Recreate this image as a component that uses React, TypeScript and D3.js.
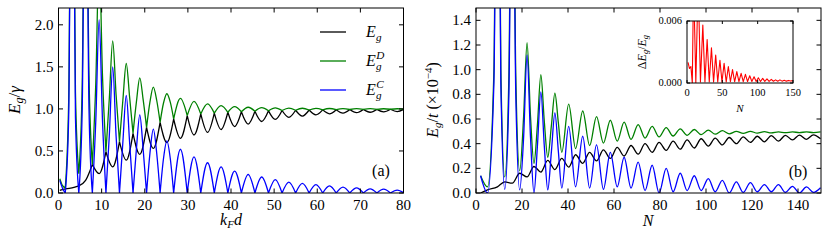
import * as d3 from "d3";

// ---------- panel (a): E_g / gamma vs k_F d ----------
const kdA = [
  0.3, 0.9, 1.57, 2.36, 3.14, 3.93, 4.71, 5.5, 6.28, 7.07, 7.85, 8.64, 9.42, 10.21, 11.0,
  11.78, 12.57, 13.35, 14.14, 14.92, 15.71, 16.49, 17.28, 18.06, 18.85, 19.63, 20.42, 21.2,
  21.99, 22.78, 23.56, 24.35, 25.13, 25.92, 26.7, 28.27, 29.85, 31.42, 32.99, 34.56, 36.13,
  37.7, 39.27, 40.84, 42.41, 43.98, 45.55, 47.12, 48.69, 50.27, 51.84, 53.41, 54.98, 56.55,
  58.12, 59.69, 61.26, 62.83, 64.4, 65.97, 67.54, 69.12, 70.69, 72.26, 73.83, 75.4, 76.97,
  78.54, 80.11,
];
const egCA = [
  0.15, 0.06, 0, 0.9, 6, 0.9, 0, 1.0, 5, 1.0, 0, 0.85, 2.06, 0.85, 0,
  0.68, 1.5, 0.68, 0, 0.6, 1.16, 0.6, 0, 0.52, 0.93, 0.52, 0, 0.47,
  0.76, 0.47, 0, 0.41, 0.62, 0.41, 0, 0.52, 0, 0.43, 0, 0.36, 0,
  0.31, 0, 0.26, 0, 0.22, 0, 0.19, 0, 0.16, 0, 0.13, 0, 0.115,
  0, 0.1, 0, 0.085, 0, 0.07, 0, 0.062, 0, 0.05, 0, 0.045, 0,
  0.035, 0,
];
const egDA = [
  0.17, 0.09, 0.06, 1.1, 6, 1.2, 0.23, 1.3, 5, 1.4, 0.34, 1.3, 2.8, 1.38, 0.49,
  1.12, 1.81, 1.17, 0.61, 1.1, 1.54, 1.14, 0.71, 1.08, 1.37, 1.11, 0.78, 1.08,
  1.26, 1.1, 0.84, 1.07, 1.18, 1.08, 0.88, 1.125, 0.92, 1.09, 0.94, 1.06, 0.95,
  1.04, 0.96, 1.028, 0.966, 1.02, 0.972, 1.015, 0.977, 1.012, 0.981, 1.01, 0.984, 1.008,
  0.987, 1.006, 0.989, 1.005, 0.991, 1.004, 0.993, 1.003, 0.994, 1.003, 0.995, 1.002, 0.996,
  1.002, 0.997,
];
const egA = [
  0.03, 0.04, 0.05, null, 0.06, null, 0.085, null, 0.15, null, 0.34, null, 0.23, null, 0.49,
  null, 0.31, null, 0.61, null, 0.39, null, 0.71, null, 0.46, null, 0.78, null,
  0.53, null, 0.84, null, 0.6, null, 0.88, 0.65, 0.92, 0.69, 0.94, 0.72, 0.95,
  0.755, 0.96, 0.79, 0.966, 0.82, 0.972, 0.85, 0.977, 0.875, 0.981, 0.9, 0.984, 0.915,
  0.987, 0.93, 0.989, 0.942, 0.991, 0.95, 0.993, 0.956, 0.994, 0.96, 0.995, 0.965, 0.996,
  0.968, 0.997,
];
const cuspA = [
  1.57, 4.71, 7.85, 11.0, 14.14, 17.28, 20.42, 23.56, 26.7, 29.85, 32.99, 36.13, 39.27,
  42.41, 45.55, 48.69, 51.84, 54.98, 58.12, 61.26, 64.4, 67.54, 70.69, 73.83, 76.97, 80.11,
];

// ---------- panel (b): E_g / t vs N ----------
const nB = [
  2, 5, 7.8, 9.3, 10.8, 12.5, 14.3, 15.8, 17.3, 19, 20.7, 22.2, 23.7, 25.2, 26.7, 28.2, 29.7,
  31.2, 32.8, 34.3, 35.8, 37.3, 40.3, 43.3, 46.4, 49.4, 52.4, 55.4, 58.4, 61.4, 64.4, 67.4,
  70.5, 73.5, 76.6, 79.6, 82.7, 85.7, 88.8, 91.8, 94.9, 97.9, 101, 104, 107.1, 110.1, 113.2,
  116.2, 119.3, 122.3, 125.4, 128.4, 131.5, 134.5, 137.6, 140.6, 143.7, 146.7, 149.8,
];
const egCB = [
  0.14, 0.0, 0.9, 4.0, 0.9, 0.03, 0.8, 3.5, 0.8, 0.025, 0.45, 1.12, 0.45, 0.0, 0.38, 0.82, 0.38,
  0.025, 0.34, 0.65, 0.34, 0.04, 0.54, 0.05, 0.46, 0.04, 0.39, 0.03, 0.33, 0.05, 0.29, 0.04,
  0.25, 0.02, 0.225, 0.0, 0.2, 0.01, 0.16, 0.02, 0.14, 0.02, 0.117, 0.01, 0.103, 0.0, 0.09,
  0.005, 0.084, 0.01, 0.068, 0.01, 0.068, 0.005, 0.054, 0.0, 0.049, 0.005, 0.043,
];
const egDB = [
  0.14, 0.05, 1.0, 4.5, 1.0, 0.13, 0.95, 3.8, 0.95, 0.18, 0.62, 1.22, 0.62, 0.24, 0.55, 0.96, 0.58,
  0.29, 0.55, 0.81, 0.57, 0.33, 0.72, 0.36, 0.665, 0.385, 0.62, 0.405, 0.59, 0.42, 0.575, 0.435,
  0.555, 0.445, 0.54, 0.455, 0.53, 0.462, 0.52, 0.468, 0.515, 0.473, 0.51, 0.477, 0.505, 0.48, 0.5,
  0.483, 0.5, 0.485, 0.497, 0.487, 0.495, 0.489, 0.495, 0.49, 0.495, 0.49, 0.495,
];
const egB = [
  0.0, 0.025, null, 0.05, null, 0.09, null, 0.08, null, 0.16, null, 0.13, null, 0.215, null, 0.17, null,
  0.265, null, 0.19, null, 0.28, 0.21, 0.31, 0.24, 0.33, 0.26, 0.35, 0.28, 0.37, 0.3, 0.385,
  0.315, 0.4, 0.33, 0.41, 0.345, 0.42, 0.355, 0.43, 0.365, 0.44, 0.38, 0.445, 0.39, 0.45, 0.4,
  0.455, 0.41, 0.46, 0.415, 0.465, 0.42, 0.468, 0.43, 0.47, 0.435, 0.472, 0.44,
];

// ---------- inset: Delta E_g / E_g vs N ----------
const nIn = [
  1.5, 3.5, 5.5, 7.5, 9.3, 12.5, 15.8, 19, 22.4, 25.4, 28.5, 31.5, 34.6, 37.6, 40.6, 43.5, 46.6,
  49.5, 52.5, 55.5, 58.5, 61.4, 64.4, 67.4, 70.5, 73.5, 76.6, 79.6, 82.7, 85.7, 88.8, 91.8, 94.9,
  97.9, 101, 104, 107.1, 110.1, 113.2, 116.2, 119.3, 122.3, 125.4, 128.4, 131.5, 134.5, 137.6,
  140.6, 143.7, 146.7, 149.8,
];
const dEIn = [
  0.002, 0.0014, 0.0016, 0.0, 0.01, 0.0, 0.01, 0.0001, 0.0056, 0.0001, 0.0042, 0.0001, 0.0034,
  0.0001, 0.0027, 0.0001, 0.0022, 0.0001, 0.0019, 0.0001, 0.0016, 0.00012, 0.0013, 0.00012,
  0.0011, 0.00013, 0.00094, 0.00013, 0.00084, 0.00014, 0.0007, 0.00014, 0.0006, 0.00015, 0.0005,
  0.00015, 0.00045, 0.00016, 0.0004, 0.00016, 0.00035, 0.00017, 0.0003, 0.00017, 0.0003, 0.00018,
  0.00026, 0.00018, 0.00025, 0.00019, 0.00023,
];

const ticksAx = [0, 10, 20, 30, 40, 50, 60, 70, 80];
const ticksAy = [0, 0.5, 1.0, 1.5, 2.0];
const ticksBx = [0, 20, 40, 60, 80, 100, 120, 140];
const ticksBy = [0, 0.2, 0.4, 0.6, 0.8, 1.0, 1.2, 1.4];
const ticksIx = [0, 50, 100, 150];
const ticksIy = [0, 0.006];

const W = 830;
const H = 243;
const FONT = "'Liberation Serif', 'DejaVu Serif', serif";
const GREEN = "#008000";
const BLUE = "#0000ff";

const xA = d3.scaleLinear().domain([0, 80]).range([58.5, 403.5]);
const yA = d3.scaleLinear().domain([0, 2.2]).range([193, 8]);
const xB = d3.scaleLinear().domain([0, 150]).range([476, 821]);
const yB = d3.scaleLinear().domain([0, 1.5]).range([193, 8]);
const xI = d3.scaleLinear().domain([0, 150]).range([687, 793]);
const yI = d3.scaleLinear().domain([0, 0.006]).range([83, 21]);

type Pt = [number, number];

// split a series at the cusp positions so each arch is its own smooth piece
function pieces(xs: number[], ys: (number | null)[], cusps: number[]): Pt[][] {
  const pts = xs.map((x, i) => [x, ys[i]]).filter((p) => p[1] != null) as Pt[];
  const out: Pt[][] = [];
  let cur: Pt[] = [];
  pts.forEach((p) => {
    cur.push(p);
    if (cusps.includes(p[0]) && cur.length > 1) {
      out.push(cur);
      cur = [p];
    }
  });
  if (cur.length > 1) out.push(cur);
  return out;
}

function pathOf(xs: number[], ys: (number | null)[], cusps: number[], sx: any, sy: any, curve: any) {
  const line = d3
    .line<Pt>()
    .x((d) => sx(d[0]))
    .y((d) => sy(d[1]))
    .curve(curve);
  return pieces(xs, ys, cusps)
    .map((s) => line(s))
    .join("");
}

function Frame({ sx, sy, xt, yt, fmt, size, tick, lblGap }: any) {
  const [x0, x1] = sx.range();
  const [y0, y1] = sy.range();
  return (
    <g>
      {xt.map((t: number) => (
        <g key={"x" + t}>
          <line x1={sx(t)} x2={sx(t)} y1={y0} y2={y0 - tick} stroke="#000" />
          <line x1={sx(t)} x2={sx(t)} y1={y1} y2={y1 + tick} stroke="#000" />
          <text x={sx(t)} y={y0 + lblGap} textAnchor="middle" fontSize={size}>
            {t}
          </text>
        </g>
      ))}
      {yt.map((t: number) => (
        <g key={"y" + t}>
          <line x1={x0} x2={x0 + tick} y1={sy(t)} y2={sy(t)} stroke="#000" />
          <line x1={x1} x2={x1 - tick} y1={sy(t)} y2={sy(t)} stroke="#000" />
          <text x={x0 - 5} y={sy(t)} dy="0.33em" textAnchor="end" fontSize={size}>
            {fmt(t)}
          </text>
        </g>
      ))}
      <rect x={x0} y={y1} width={x1 - x0} height={y0 - y1} fill="none" stroke="#000" strokeWidth={1} />
    </g>
  );
}

function Eg({ x, y, sup, size }: any) {
  return (
    <g fontStyle="italic">
      <text x={x} y={y} fontSize={size}>E</text>
      <text x={x + size * 0.62} y={y + size * 0.25} fontSize={size * 0.7}>g</text>
      {sup && (
        <text x={x + size * 0.64} y={y - size * 0.42} fontSize={size * 0.7}>
          {sup}
        </text>
      )}
    </g>
  );
}

export default function App() {
  const curve = d3.curveMonotoneX;
  const legend = [
    { color: "#000", sup: null },
    { color: GREEN, sup: "D" },
    { color: BLUE, sup: "C" },
  ];
  return (
    <svg
      width={W}
      height={H}
      style={{ position: "absolute", left: 0, top: 0, background: "#fff" }}
      fontFamily={FONT}
    >
      <defs>
        <clipPath id="clipA">
          <rect x={xA(0)} y={yA(2.2)} width={xA(80) - xA(0)} height={yA(0) - yA(2.2)} />
        </clipPath>
        <clipPath id="clipB">
          <rect x={xB(0)} y={yB(1.5)} width={xB(150) - xB(0)} height={yB(0) - yB(1.5)} />
        </clipPath>
        <clipPath id="clipI">
          <rect x={xI(0)} y={yI(0.006)} width={xI(150) - xI(0)} height={yI(0) - yI(0.006)} />
        </clipPath>
      </defs>

      {/* panel (a) */}
      <g clipPath="url(#clipA)" fill="none" strokeWidth={1.3} strokeLinejoin="round">
        <path d={pathOf(kdA, egA, cuspA, xA, yA, curve)} stroke="#000" />
        <path d={pathOf(kdA, egDA, cuspA, xA, yA, curve)} stroke={GREEN} />
        <path d={pathOf(kdA, egCA, cuspA, xA, yA, curve)} stroke={BLUE} />
      </g>
      <Frame sx={xA} sy={yA} xt={ticksAx} yt={ticksAy} fmt={d3.format(".1f")} size={15} tick={4.5} lblGap={17} />
      {legend.map((l, i) => (
        <g key={i}>
          <line x1={320} x2={346} y1={32 + i * 29} y2={32 + i * 29} stroke={l.color} strokeWidth={1.3} />
          <Eg x={366} y={37 + i * 29} sup={l.sup} size={16} />
        </g>
      ))}
      <text x={381} y={176} textAnchor="middle" fontSize={16}>(a)</text>
      <text x={231} y={225} textAnchor="middle" fontSize={16} fontStyle="italic">
        k<tspan fontSize={11} dy={3}>F</tspan>
        <tspan dy={-3}>d</tspan>
      </text>
      <text transform="translate(20,100) rotate(-90)" textAnchor="middle" fontSize={17}>
        <tspan fontStyle="italic">E</tspan>
        <tspan fontStyle="italic" fontSize={12} dy={3}>g</tspan>
        <tspan dy={-3}>/</tspan>
        <tspan fontStyle="italic">γ</tspan>
      </text>

      {/* panel (b) */}
      <g clipPath="url(#clipB)" fill="none" strokeWidth={1.3} strokeLinejoin="round">
        <path d={pathOf(nB, egB, [], xB, yB, curve)} stroke="#000" />
        <path d={pathOf(nB, egDB, [], xB, yB, curve)} stroke={GREEN} />
        <path d={pathOf(nB, egCB, [], xB, yB, curve)} stroke={BLUE} />
      </g>
      <Frame sx={xB} sy={yB} xt={ticksBx} yt={ticksBy} fmt={d3.format(".1f")} size={15} tick={4.5} lblGap={17} />
      <text x={798} y={177} textAnchor="middle" fontSize={16}>(b)</text>
      <text x={648} y={226} textAnchor="middle" fontSize={16} fontStyle="italic">N</text>
      <text transform="translate(438,100) rotate(-90)" textAnchor="middle" fontSize={16}>
        <tspan fontStyle="italic">E</tspan>
        <tspan fontStyle="italic" fontSize={11} dy={3}>g</tspan>
        <tspan dy={-3}>/</tspan>
        <tspan fontStyle="italic">t</tspan>
        <tspan> (×10</tspan>
        <tspan fontSize={11} dy={-6}>−4</tspan>
        <tspan dy={6}>)</tspan>
      </text>

      {/* inset */}
      <rect x={xI(0)} y={yI(0.006)} width={xI(150) - xI(0)} height={yI(0) - yI(0.006)} fill="#fff" />
      <g clipPath="url(#clipI)" fill="none" strokeWidth={1.1} strokeLinejoin="round">
        <path d={pathOf(nIn, dEIn, [], xI, yI, d3.curveLinear)} stroke="#ff0000" />
      </g>
      <Frame sx={xI} sy={yI} xt={ticksIx} yt={ticksIy} fmt={d3.format(".3f")} size={10.5} tick={3} lblGap={13} />
      <text x={740} y={112} textAnchor="middle" fontSize={11} fontStyle="italic">N</text>
      <text transform="translate(646,52) rotate(-90)" textAnchor="middle" fontSize={12}>
        <tspan>Δ</tspan>
        <tspan fontStyle="italic">E</tspan>
        <tspan fontStyle="italic" fontSize={8.5} dy={2}>g</tspan>
        <tspan dy={-2}>/</tspan>
        <tspan fontStyle="italic">E</tspan>
        <tspan fontStyle="italic" fontSize={8.5} dy={2}>g</tspan>
      </text>
    </svg>
  );
}
